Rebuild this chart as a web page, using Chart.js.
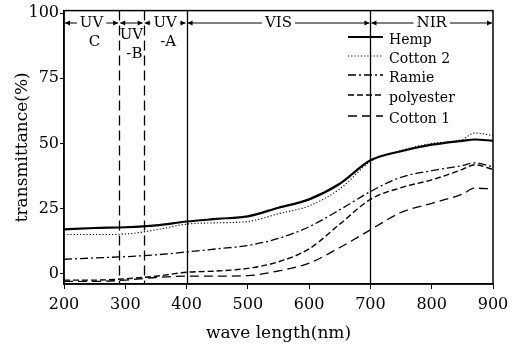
<!DOCTYPE html>
<html>
<head>
<meta charset="utf-8">
<script src="https://cdn.jsdelivr.net/npm/chart.js@4.4.0/dist/chart.umd.min.js"></script>
<style>
  html, body { margin: 0; padding: 0; background: #fff; }
  #wrap { width: 521px; height: 348px; }
</style>
</head>
<body>
<div id="wrap"><canvas id="chart"></canvas></div>
<script>
// --- Data ---
const wavelengths = [200, 250, 300, 350, 400, 450, 500, 550, 600, 650, 700, 750, 800, 850, 870, 900];
const hemp      = [17, 17.5, 17.8, 18.5, 20, 21, 22, 25.3, 28.5, 34.5, 43.5, 47, 49.5, 51, 51.5, 51];
const cotton2   = [15, 15, 15.2, 16.8, 19, 19.5, 20, 23, 26, 32.5, 43, 47.3, 50, 51.5, 54, 53];
const ramie     = [5.5, 6, 6.5, 7.2, 8.3, 9.5, 10.8, 13.5, 18, 24.5, 31.5, 37, 39.5, 41.5, 42.5, 41];
const polyester = [-2.5, -2.5, -2, -1, 0.5, 1, 2, 4.5, 9.5, 19, 28.5, 33, 36, 40, 41.8, 40];
const cotton1   = [-3, -3, -2.5, -1.5, -1, -1, -0.8, 1, 4, 10, 16.8, 23.5, 27, 30.5, 32.8, 32.5];

const xTicks = [200, 300, 400, 500, 600, 700, 800, 900];
const yTicks = [0, 25, 50, 75, 100];

// spectral bands across the top
const bandEdges = [200, 290, 330, 400, 700, 900];
const bandNames = [['UV', 'C'], ['UV', '-B'], ['UV', '-A'], ['VIS'], ['NIR']];

const seriesNames = ['Hemp', 'Cotton 2', 'Ramie', 'polyester', 'Cotton 1'];

// --- Styles ---
const ink = '#000';
const serif = '"DejaVu Serif", "Liberation Serif", serif';
const lineStyles = [
  { width: 2.2, dash: [] },
  { width: 1.1, dash: [1.2, 2] },
  { width: 1.3, dash: [8, 3, 2, 3] },
  { width: 1.4, dash: [6, 3] },
  { width: 1.3, dash: [9, 5] }
];
const legendY = [37, 56, 75, 95, 116];

const toPoints = (vals) => wavelengths.map((w, i) => ({ x: w, y: vals[i] }));

const datasets = [hemp, cotton2, ramie, polyester, cotton1].map((vals, i) => ({
  label: seriesNames[i],
  data: toPoints(vals),
  borderColor: ink,
  borderWidth: lineStyles[i].width,
  borderDash: lineStyles[i].dash,
  pointRadius: 0,
  cubicInterpolationMode: 'monotone',
  fill: false
}));

const arrowHead = (ctx, x, y, dir) => {
  ctx.beginPath();
  ctx.moveTo(x, y);
  ctx.lineTo(x - dir * 5, y - 2.5);
  ctx.lineTo(x - dir * 5, y + 2.5);
  ctx.closePath();
  ctx.fill();
};

const decorPlugin = {
  id: 'decor',
  afterDatasetsDraw(chart) {
    const { ctx, chartArea: a, scales: { x } } = chart;
    ctx.save();
    ctx.strokeStyle = ink;
    ctx.fillStyle = ink;

    // band boundary lines
    bandEdges.slice(1, -1).forEach((w, i) => {
      const px = Math.round(x.getPixelForValue(w)) + 0.5;
      ctx.lineWidth = 1.3;
      ctx.setLineDash(i < 2 ? [10, 5] : []);
      ctx.beginPath();
      ctx.moveTo(px, a.top);
      ctx.lineTo(px, a.bottom);
      ctx.stroke();
    });
    ctx.setLineDash([]);

    // frame
    ctx.lineWidth = 1.5;
    ctx.strokeRect(a.left, a.top, a.right - a.left, a.bottom - a.top);

    // band arrows and names
    const rowY = 23;
    ctx.font = '15px ' + serif;
    ctx.textAlign = 'center';
    ctx.textBaseline = 'middle';
    ctx.lineWidth = 1;
    bandNames.forEach((name, i) => {
      const x0 = x.getPixelForValue(bandEdges[i]) + 1;
      const x1 = x.getPixelForValue(bandEdges[i + 1]) - 1;
      const cx = (x0 + x1) / 2;
      const narrow = (x1 - x0) < 40;
      const labelY = narrow ? rowY + 12 : rowY;
      const half = narrow ? 0 : ctx.measureText(name[0]).width / 2 + 3;
      ctx.beginPath();
      if (half) {
        ctx.moveTo(x0, rowY); ctx.lineTo(cx - half, rowY);
        ctx.moveTo(cx + half, rowY); ctx.lineTo(x1, rowY);
      } else {
        ctx.moveTo(x0, rowY); ctx.lineTo(x1, rowY);
      }
      ctx.stroke();
      arrowHead(ctx, x0, rowY, -1);
      arrowHead(ctx, x1, rowY, 1);
      ctx.fillText(name[0], cx, labelY);
      if (name[1]) ctx.fillText(name[1], cx + 3, labelY + 19);
    });

    // legend
    ctx.textAlign = 'left';
    ctx.font = '14px ' + serif;
    seriesNames.forEach((n, i) => {
      const y = legendY[i];
      ctx.lineWidth = lineStyles[i].width;
      ctx.setLineDash(lineStyles[i].dash);
      ctx.beginPath();
      ctx.moveTo(348, y);
      ctx.lineTo(383, y);
      ctx.stroke();
      ctx.setLineDash([]);
      ctx.fillText(n, 389, y + 3);
    });
    ctx.restore();
  }
};

new Chart(document.getElementById('chart'), {
  type: 'line',
  data: { datasets },
  options: {
    responsive: true,
    maintainAspectRatio: false,
    animation: false,
    layout: { padding: { top: 10, right: 28, left: 0, bottom: 0 } },
    plugins: { legend: { display: false }, tooltip: { enabled: false } },
    scales: {
      x: {
        type: 'linear',
        min: 200,
        max: 900,
        afterBuildTicks: (s) => { s.ticks = xTicks.map(v => ({ value: v })); },
        afterFit: (s) => { s.height = 64; },
        ticks: { color: ink, font: { family: serif, size: 16 }, padding: 6, maxRotation: 0 },
        grid: { drawOnChartArea: false, drawTicks: true, tickLength: 5, color: ink },
        border: { display: true, color: ink, width: 1.5 },
        title: { display: true, text: 'wave length(nm)', color: ink, font: { family: serif, size: 17 }, padding: { top: 0 } }
      },
      y: {
        min: -4,
        max: 101,
        afterBuildTicks: (s) => { s.ticks = yTicks.map(v => ({ value: v })); },
        afterFit: (s) => { s.width = 64; },
        ticks: { color: ink, font: { family: serif, size: 16 }, padding: 1 },
        grid: { drawOnChartArea: false, drawTicks: true, tickLength: 4, color: ink },
        border: { display: true, color: ink, width: 1.5 },
        title: { display: true, text: 'transmittance(%)', color: ink, font: { family: serif, size: 17 }, padding: { bottom: 0, top: 12 } }
      }
    }
  },
  plugins: [decorPlugin]
});
</script>
</body>
</html>
